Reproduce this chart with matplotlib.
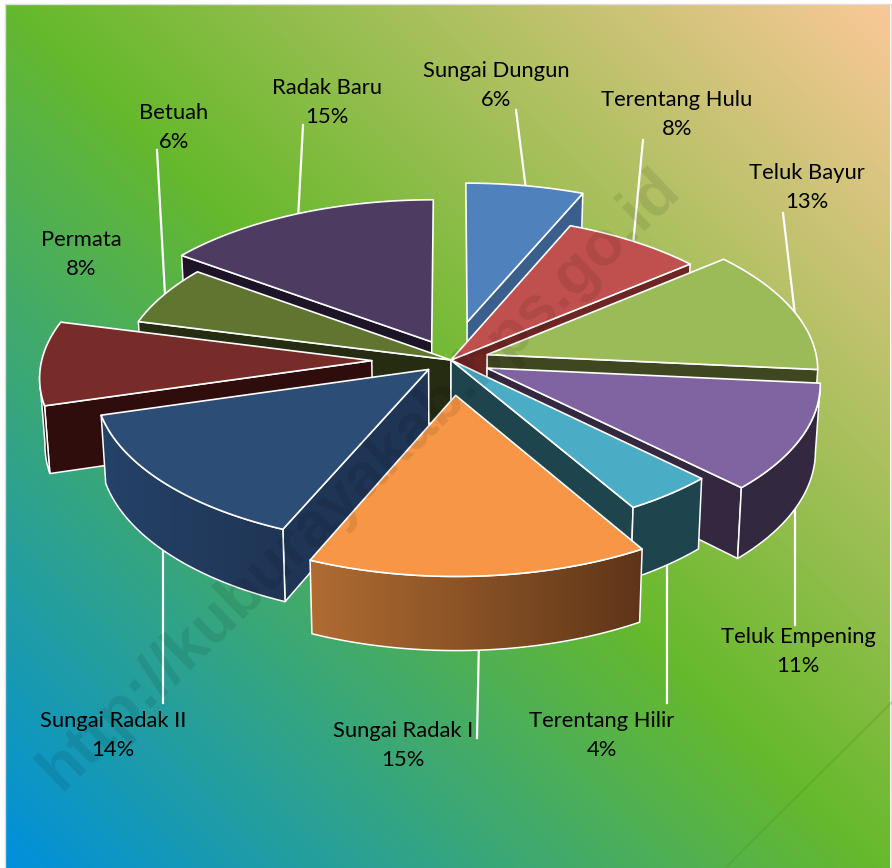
import numpy as np
import matplotlib
matplotlib.use("Agg")
import matplotlib.pyplot as plt
from matplotlib.patches import Polygon
from matplotlib.colors import LinearSegmentedColormap, to_rgb

# Data
names = ["Sungai Dungun", "Terentang Hulu", "Teluk Bayur", "Teluk Empening", "Terentang Hilir",
         "Sungai Radak I", "Sungai Radak II", "Permata", "Betuah", "Radak Baru"]
percent_labels = ["6%", "8%", "13%", "11%", "4%", "15%", "14%", "8%", "6%", "15%"]
# slice sizes as they look in the picture
values = [6.4, 7.5, 12.6, 10.9, 4.1, 15.0, 14.0, 8.5, 6.0, 15.0]

# Style per slice
explode = [0.25, 0.0, 0.115, 0.12, 0.0, 0.22, 0.09, 0.24, 0.0, 0.13]
top_colors = ["#4F81BD", "#C0504D", "#9BBB59", "#8064A2", "#4BACC6",
              "#F79646", "#2C4D75", "#772C2A", "#5F7530", "#4D3B62"]
wall_left = ["#3A5F8C", "#6E2624", "#3E4720", "#33283F", "#1E444E",
             "#B06C32", "#254268", "#2E0D0C", "#252C12", "#1D1428"]
wall_right = ["#3A5F8C", "#6E2624", "#3E4720", "#33283F", "#1E444E",
              "#5E3518", "#1F3555", "#2E0D0C", "#252C12", "#1D1428"]
draw_order = [0, 1, 9, 8, 7, 2, 3, 4, 6, 5]

# Label layout in pixels (centre x, first line y)
label_x = [496, 677, 807, 798, 602, 403, 113, 81, 174, 327]
label_y = [71, 100, 173, 637, 721, 731, 721, 240, 113, 88]
leaders = [((516, 110), (526, 190)), ((643, 140), (633, 245)), ((783, 213), (795, 315)),
           ((795, 625), (795, 505)), ((667, 703), (667, 560)), ((477, 738), (479, 640)),
           ((163, 703), (163, 540)), ((157, 150), (165, 295)), ((303, 125), (298, 220))]

W, H = 892, 868
cx, cy = 451, 360
ax_r, ay_r, k = 330, 158, 0.09
depth = 66

plt.rcParams["font.family"] = ["Lato", "DejaVu Sans"]
fig = plt.figure(figsize=(W / 100, H / 100), dpi=100)
ax = fig.add_axes([0, 0, 1, 1])
ax.set_xlim(0, W)
ax.set_ylim(H, 0)
ax.axis("off")


def project(x, y, low=False):
    s = 1 / (1 + k * y)
    px = ax_r * x * s
    py = cy - ay_r * y * s
    if low:
        return cx + 0.987 * px, py + depth * s
    return cx + px, py


# Background gradient
bg_cmap = LinearSegmentedColormap.from_list("bg", [(0, "#0090DC"), (0.5, "#66B92C"), (1, "#FAC898")])
xx, yy = np.meshgrid(np.arange(W), np.arange(H))
ax.imshow((xx + (H - yy)) / (W + H), cmap=bg_cmap, vmin=0, vmax=1, extent=(5, 890, H, 4),
          aspect="auto", zorder=0)
ax.add_patch(Polygon([(4.5, H), (4.5, 3.5), (890.5, 3.5), (890.5, H)], closed=False, fill=False,
                     edgecolor="#DDDDDD", lw=1, zorder=1))
ax.plot([725, W], [H, 702], color="#4F9A2C", lw=1.5, alpha=0.35, zorder=1)

for (a, b) in leaders:
    ax.plot([a[0], b[0]], [a[1], b[1]], color="white", lw=1.6, zorder=2)

angles = np.cumsum([0] + values) / sum(values) * 360
z = 3
for i in draw_order:
    t0, t1 = np.radians(angles[i]), np.radians(angles[i + 1])
    mid = (t0 + t1) / 2
    ex, ey = explode[i] * np.sin(mid), explode[i] * np.cos(mid)
    th = np.linspace(t0, t1, 60)
    ox, oy = ex + np.sin(th), ey + np.cos(th)

    tip_t = project(ex, ey)
    tip_b = project(ex, ey, True)
    arc_t = np.array(project(ox, oy)).T
    arc_b = np.array(project(ox, oy, True)).T

    # only the cut faces that look towards the viewer
    if np.sin(t0) < 0:
        ax.add_patch(Polygon([tip_t, arc_t[0], arc_b[0], tip_b], closed=True, facecolor=wall_right[i],
                             edgecolor="white", lw=1.1, joinstyle="round", zorder=z))
        z += 1
    if np.sin(t1) > 0:
        ax.add_patch(Polygon([tip_t, arc_t[-1], arc_b[-1], tip_b], closed=True, facecolor=wall_right[i],
                             edgecolor="white", lw=1.1, joinstyle="round", zorder=z))
        z += 1

    # outer wall, front part of the ring only
    front = np.cos(th) <= -0.1
    if front.sum() > 1:
        wall = np.vstack([arc_t[front], arc_b[front][::-1]])
        x0, x1 = wall[:, 0].min(), wall[:, 0].max()
        y0, y1 = wall[:, 1].min(), wall[:, 1].max()
        wall_cmap = LinearSegmentedColormap.from_list("w", [to_rgb(wall_left[i]), to_rgb(wall_right[i])])
        im = ax.imshow(np.linspace(0, 1, 128).reshape(1, -1), cmap=wall_cmap, extent=(x0, x1, y1, y0),
                       aspect="auto", zorder=z)
        edge = Polygon(wall, closed=True, facecolor="none", edgecolor="white", lw=1.1, joinstyle="round",
                       zorder=z + 1)
        ax.add_patch(edge)
        im.set_clip_path(edge)
        z += 2

    ax.add_patch(Polygon(np.vstack([[tip_t], arc_t]), closed=True, facecolor=top_colors[i],
                         edgecolor="white", lw=1.2, joinstyle="round", zorder=z))
    z += 1

ax.set_xlim(0, W)
ax.set_ylim(H, 0)

ax.text(360, 480, "http://kuburayakab.bps.go.id", rotation=44, rotation_mode="anchor", ha="center", va="center",
        fontsize=45.5, fontweight="bold", family="Liberation Sans", color="black", alpha=0.09, zorder=z)

for i in range(len(names)):
    ax.text(label_x[i], label_y[i], names[i], ha="center", va="center", fontsize=15.8, color="black", zorder=z + 1)
    ax.text(label_x[i], label_y[i] + 29, percent_labels[i], ha="center", va="center", fontsize=15.8, color="black",
            zorder=z + 1)

fig.savefig("out.png", dpi=100)
